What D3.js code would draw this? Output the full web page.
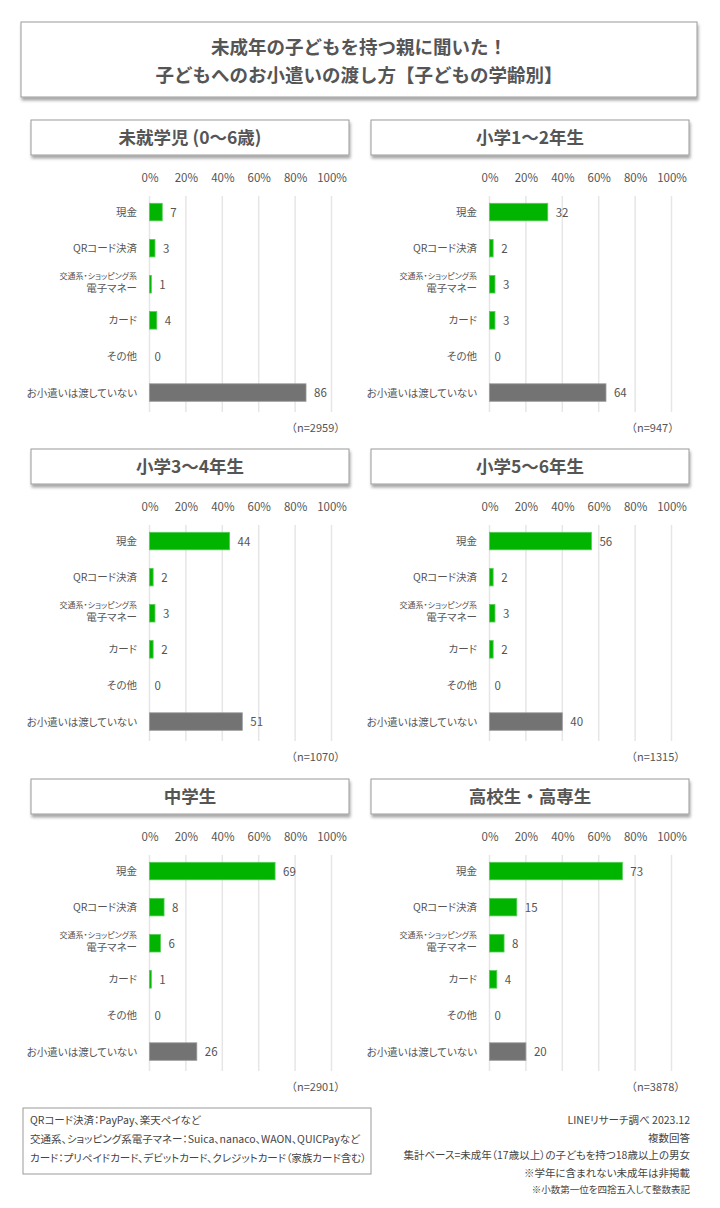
<!DOCTYPE html>
<html><head><meta charset="utf-8">
<script src="https://cdn.jsdelivr.net/npm/d3@7"></script>
<style>
html,body{margin:0;padding:0;background:#fff;}
svg{display:block;font-family:"Noto Sans CJK JP","Noto Sans",sans-serif;}
.p{font-feature-settings:"palt" 1;}
</style></head><body>
<svg id="c" width="720" height="1208"></svg>
<script>
const titleLines = ["未成年の子どもを持つ親に聞いた！", "子どもへのお小遣いの渡し方【子どもの学齢別】"];
const categories = ["現金", "QRコード決済", "電子マネー", "カード", "その他", "お小遣いは渡していない"];
const categorySubLabel = "交通系・ショッピング系";
const panelTitles = ["未就学児 (0～6歳)", "小学1～2年生", "小学3～4年生", "小学5～6年生", "中学生", "高校生・高専生"];
const panelN = ["（n=2959）", "（n=947）", "（n=1070）", "（n=1315）", "（n=2901）", "（n=3878）"];
const values_preschool = [7, 3, 1, 4, 0, 86];
const values_grade12 = [32, 2, 3, 3, 0, 64];
const values_grade34 = [44, 2, 3, 2, 0, 51];
const values_grade56 = [56, 2, 3, 2, 0, 40];
const values_junior = [69, 8, 6, 1, 0, 26];
const values_high = [73, 15, 8, 4, 0, 20];
const tickValues = [0, 20, 40, 60, 80, 100];
const tickLabels = ["0%", "20%", "40%", "60%", "80%", "100%"];
const noteLeft = ["QRコード決済：PayPay、楽天ペイなど", "交通系、ショッピング系電子マネー：Suica、nanaco、WAON、QUICPayなど", "カード：プリペイドカード、デビットカード、クレジットカード（家族カード含む）"];
const noteRight = ["LINEリサーチ調べ 2023.12", "複数回答", "集計ベース=未成年（17歳以上）の子どもを持つ18歳以上の男女", "※学年に含まれない未成年は非掲載", "※小数第一位を四捨五入して整数表記"];

const allValues = [values_preschool, values_grade12, values_grade34, values_grade56, values_junior, values_high];

const svg = d3.select("#c");
const txt = "#555";

const defs = svg.append("defs");
const f = defs.append("filter").attr("id","sh").attr("x","-5%").attr("y","-20%").attr("width","110%").attr("height","160%");
f.append("feDropShadow").attr("dx",1).attr("dy",3).attr("stdDeviation",1.6).attr("flood-color","#000").attr("flood-opacity",0.35);

// Title box
svg.append("rect").attr("x",21).attr("y",22).attr("width",676).attr("height",75)
  .attr("fill","#fff").attr("stroke","#9a9a9a").attr("stroke-width",1).attr("filter","url(#sh)");
titleLines.forEach((t,i)=>{
  svg.append("text").attr("x",359).attr("y",54+i*28).attr("text-anchor","middle")
    .attr("font-size",18.5).attr("font-weight","bold").attr("fill",txt).text(t);
});

const rowY = [120, 449, 779];
allValues.forEach((vals, p) => {
  const ox = (p % 2) * 340;
  const oy = rowY[Math.floor(p / 2)];
  const g = svg.append("g");
  g.append("rect").attr("x",31+ox).attr("y",oy).attr("width",318).attr("height",35)
    .attr("fill","#fff").attr("stroke","#9a9a9a").attr("stroke-width",1).attr("filter","url(#sh)");
  g.append("text").attr("x",190+ox).attr("y",oy+24).attr("text-anchor","middle")
    .attr("font-size",17.5).attr("font-weight","bold").attr("fill",txt).text(panelTitles[p]);

  const x = d3.scaleLinear().domain([0,100]).range([149.5+ox, 331.5+ox]);
  const y = d3.scaleBand().domain(categories).range([oy+74, oy+74+36.1*6]).paddingInner(0.515).paddingOuter(0.2575);

  g.selectAll("line.grid").data(tickValues).enter().append("line")
    .attr("x1",d=>x(d)).attr("x2",d=>x(d)).attr("y1",oy+76).attr("y2",oy+292)
    .attr("stroke","#e6e6e6").attr("stroke-width",1.5);

  const ax = d3.axisTop(x).tickValues(tickValues).tickFormat((d,i)=>tickLabels[i]).tickSize(0).tickPadding(0);
  const axg = g.append("g").attr("transform",`translate(0,${oy+62})`).call(ax);
  axg.select(".domain").remove();
  axg.selectAll("text").attr("font-size",11.5).attr("fill",txt).attr("font-family","'Noto Sans CJK JP',sans-serif").attr("dy",0);

  g.selectAll("rect.bar").data(vals).enter().append("rect")
    .attr("x",x(0)).attr("y",(d,i)=>y(categories[i]))
    .attr("width",d=>Math.max(0,x(d)-x(0))).attr("height",y.bandwidth())
    .attr("fill",(d,i)=>i===5?"#737373":"#00b400")
    .attr("stroke",(d,i)=>d===0?"none":(i===5?"#9a9a9a":"#55cc55")).attr("stroke-width",0.8);

  g.selectAll("text.val").data(vals).enter().append("text")
    .attr("x",d=>x(d)+(d===0?5:8)).attr("y",(d,i)=>y(categories[i])+y.bandwidth()/2+4.5)
    .attr("font-size",11.5).attr("fill",txt).text(d=>d);

  categories.forEach((c,i)=>{
    const cy = y(c)+y.bandwidth()/2;
    if (i===2) {
      g.append("text").attr("x",137+ox).attr("y",cy-5).attr("text-anchor","end").attr("class","p")
        .attr("font-size",8).attr("fill",txt).text(categorySubLabel);
      g.append("text").attr("x",137+ox).attr("y",cy+8).attr("text-anchor","end").attr("class","p")
        .attr("font-size",10.5).attr("fill",txt).text(c);
    } else {
      g.append("text").attr("x",137+ox).attr("y",cy+4).attr("text-anchor","end").attr("class","p")
        .attr("font-size",10.5).attr("fill",txt).text(c);
    }
  });

  g.append("text").attr("x",286+ox).attr("y",oy+312).attr("font-size",11).attr("fill",txt).text(panelN[p]);
});

svg.append("rect").attr("x",23).attr("y",1108).attr("width",348).attr("height",66)
  .attr("fill","#fff").attr("stroke","#9a9a9a").attr("stroke-width",1);
noteLeft.forEach((t,i)=>{
  svg.append("text").attr("x",30).attr("y",1124+i*19).attr("class","p").attr("font-size",10.5).attr("fill","#444").text(t);
});
noteRight.forEach((t,i)=>{
  svg.append("text").attr("x",690).attr("y",[1124,1142,1159,1177,1193][i]).attr("text-anchor","end").attr("class","p")
    .attr("font-size",i===4?9.5:10.5).attr("fill","#444").text(t);
});
</script>
</body></html>
